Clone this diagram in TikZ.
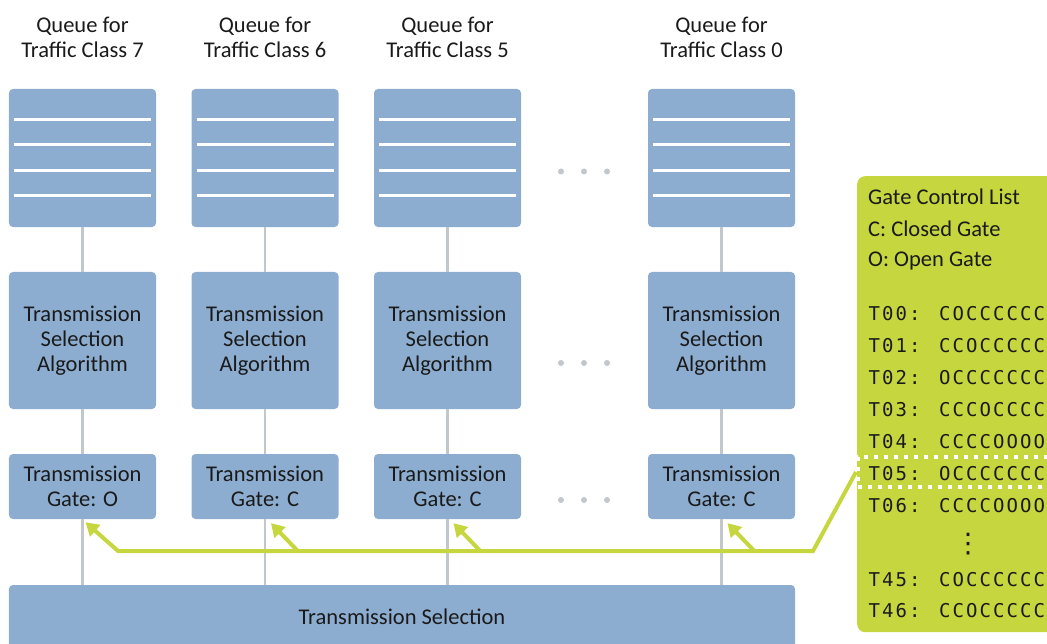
\documentclass[tikz,border=0pt]{standalone}
\usepackage{fontspec}
\setmainfont{Carlito}
\newfontfamily\codefont{DejaVu Sans Mono}
\newfontfamily\symfont{DejaVu Sans}
\usetikzlibrary{arrows.meta,calc}

% fixed-pitch cells for the gate control list entries
\ExplSyntaxOn
\NewDocumentCommand\cells{m}{\exp_args:Ne \str_map_inline:nn {#1} {\makebox[13.5bp][c]{##1}}}
\ExplSyntaxOff

\definecolor{boxblue}{RGB}{140,173,208}
\definecolor{wire}{RGB}{194,199,204}
\definecolor{gcl}{RGB}{198,214,62}
\definecolor{ink}{RGB}{26,26,26}

\newcommand\labelfont{\fontsize{22.5bp}{25bp}\selectfont}
\newcommand\listfont{\codefont\fontsize{19bp}{22bp}\selectfont}

\tikzset{
  block/.style={fill=boxblue, rounded corners=4bp, inner sep=0pt, align=center,
    text=ink, font=\labelfont, minimum width=147bp},
  queuebox/.style={block, minimum height=138bp},
  algbox/.style={block, minimum height=137bp},
  gatebox/.style={block, minimum height=65bp},
  title/.style={align=center, text=ink, font=\labelfont, inner sep=0pt},
  slot/.style={draw=white, line width=3bp},
  wireline/.style={draw=wire, line width=2.5bp},
  gline/.style={draw=gcl, line width=4bp},
  garrow/.style={gline, -{Triangle[length=13bp,width=15bp]}},
  moredots/.style={fill=wire},
  listbox/.style={fill=gcl, rounded corners=8bp, anchor=north west, inner sep=0pt,
    minimum width=230bp, minimum height=456bp},
  listtext/.style={anchor=west, inner sep=0pt, text=ink, font=\labelfont},
  entry/.style={anchor=west, inner sep=0pt, text=ink, font=\listfont},
  selbox/.style={draw=white, line width=3.5bp, dash pattern=on 4bp off 6bp,
    anchor=west, inner sep=0pt, minimum width=220bp, minimum height=30bp},
}

\begin{document}
\begin{tikzpicture}[x=1bp, y=-1bp]
\useasboundingbox (0,0) rectangle (1047,644);
\clip (0,0) rectangle (1047,644);

% queue titles
\node[title] (t1) at (82.5,37.5)  {Queue for\\Traffic Class 7};
\node[title] (t2) at (265,37.5)   {Queue for\\Traffic Class 6};
\node[title] (t3) at (447.5,37.5) {Queue for\\Traffic Class 5};
\node[title] (t4) at (721.5,37.5) {Queue for\\Traffic Class 0};

% per-class columns: queue, selection algorithm, gate
\foreach \i/\cx/\g in {1/82.5/O, 2/265/C, 3/447.5/C, 4/721.5/C}{
  \node[queuebox] (q\i) at (\cx,158) {};
  \foreach \yy in {119.5,145,170.5,196}
    \draw[slot] (\cx-68.5,\yy) -- (\cx+68.5,\yy);
  \node[algbox] (a\i) at (\cx,340.5) {Transmission\\Selection\\Algorithm};
  \node[gatebox] (g\i) at (\cx,486.5) {Transmission\\Gate: \g};
}

% shared transmission selection
\node[block, minimum width=786bp, minimum height=63bp] (ts) at (402,616.5) {Transmission Selection};

% vertical data paths
\foreach \i in {1,2,3,4}{
  \draw[wireline] (q\i.south) -- (a\i.north);
  \draw[wireline] (a\i.south) -- (g\i.north);
  \draw[wireline] (g\i.south) -- (g\i.south |- ts.north);
}

% omitted classes
\foreach \yy in {171.5,363,500}
  \foreach \xx in {561,584,607}
    \fill[moredots] (\xx,\yy) circle (3bp);

% gate control list
\node[listbox] (list) at (857,176) {};
\node[listtext] (h1) at (868,197) {Gate Control List};
\node[listtext] (h2) at (868,229) {C: Closed Gate};
\node[listtext] (h3) at (868,261) {O: Open Gate};
\foreach \lab/\code/\yy in {T00:/COCCCCCC/314, T01:/CCOCCCCC/346, T02:/OCCCCCCC/378,
    T03:/CCCOCCCC/410, T04:/CCCCOOOO/442, T05:/OCCCCCCC/474, T06:/CCCCOOOO/506,
    T45:/COCCCCCC/580, T46:/CCOCCCCC/611}
  \node[entry] at (867.5,\yy) {\cells{\lab}\hspace{16.5bp}\cells{\code}};
\node[text=ink, inner sep=0pt, font=\symfont\fontsize{27bp}{27bp}\selectfont] (vdots) at (968,544) {⋮};

% current entry
\node[selbox] (sel) at (856,472) {};

% gate states fed from the current entry
\coordinate (bend) at (813,551);
\coordinate (corner) at (118,551);
\draw[garrow] (sel.west) -- (bend) -- (corner) -- ($(g1.south)+(3,3)$);
\foreach \i in {2,3,4}
  \draw[garrow] ($(g\i.south)+(33,32)$) -- ($(g\i.south)+(6,4)$);
\end{tikzpicture}
\end{document}
